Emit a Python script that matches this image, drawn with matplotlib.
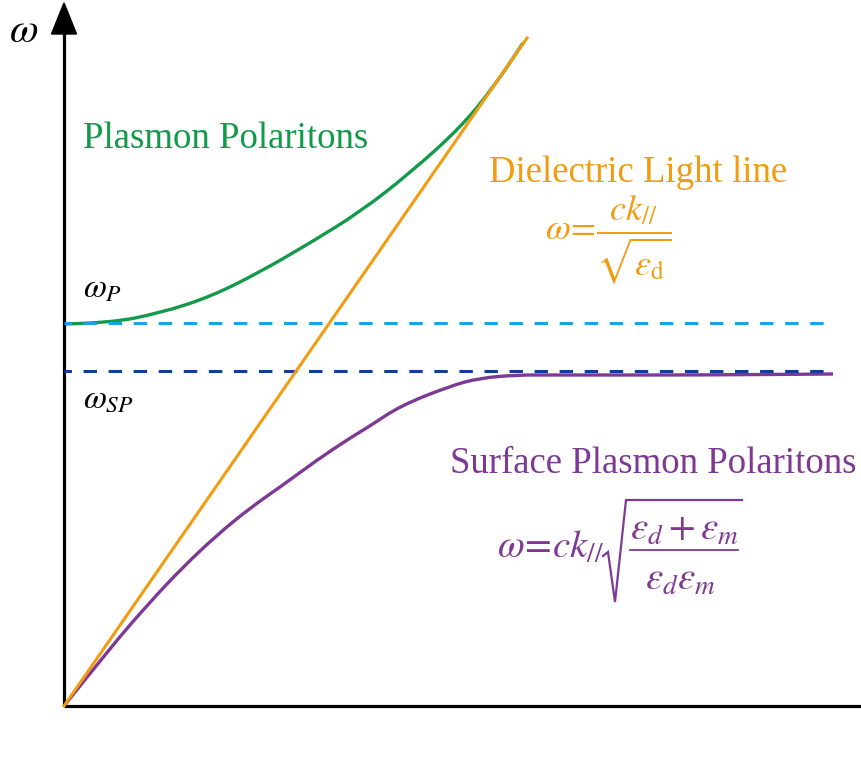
import numpy as np
import matplotlib
matplotlib.use("Agg")
import matplotlib.pyplot as plt
from matplotlib.patches import Polygon, PathPatch
from matplotlib.path import Path

plt.rcParams['font.family'] = ['Liberation Serif', 'DejaVu Serif']
plt.rcParams['mathtext.fontset'] = 'stix'

# ---- data (k on x, omega on y, arbitrary units) ----
light_k = [0, 463]
light_w = [0, 668]

pp_k = [0, 46, 96, 146, 196, 246, 296, 346, 396, 429, 459]
pp_w = [382, 383, 393, 409, 434, 463, 494, 533, 578, 618, 663]

spp_k = [0, 46, 86, 119, 153, 186, 219, 253, 286, 306, 336, 386, 416, 453, 486, 536, 636, 769]
spp_w = [0, 58, 104, 139, 171, 198, 221, 246, 268, 280, 300, 320, 328, 331, 331, 331, 331, 332]

omega_p = 383
omega_sp = 335
k_max = 769

# colours
c_green = '#13994a'
c_orange = '#f29c11'
c_purple = '#7e3994'
c_lblue = '#19a3e6'
c_dblue = '#133b98'


def smooth_curve(xs, ys):
    # quadratic bezier through the midpoints, read points used as controls
    pts = np.column_stack([xs, ys]).astype(float)
    verts = [pts[0]]
    codes = [Path.MOVETO]
    for i in range(1, len(pts) - 1):
        verts += [pts[i], (pts[i] + pts[i + 1]) / 2]
        codes += [Path.CURVE3, Path.CURVE3]
    verts.append(pts[-1])
    codes.append(Path.LINETO)
    return Path(verts, codes)


fig = plt.figure(figsize=(8.62, 7.72), dpi=100)
ax = fig.add_axes([0, 0, 1, 1])
ax.set_xlim(-64, 798)
ax.set_ylim(-66, 706)
ax.axis('off')

# axes with arrow
ax.plot([0, 0], [0, 676], color='black', lw=2.3, solid_capstyle='butt')
ax.plot([0, 798], [0, 0], color='black', lw=2.3, solid_capstyle='butt')
ax.add_patch(Polygon([[0, 703], [-12.5, 672], [12.5, 672]], closed=True,
                     color='black'))

# dashed levels
dash = (1.96, (4.4, 3.8))
ax.plot([0, k_max], [omega_p, omega_p], color=c_lblue, lw=2.2, linestyle=dash)
ax.plot([0, k_max], [omega_sp, omega_sp], color=c_dblue, lw=2.2, linestyle=dash)

# curves
ax.plot(light_k, light_w, color=c_orange, lw=2.2)
ax.add_patch(PathPatch(smooth_curve(pp_k, pp_w), fill=False,
                       edgecolor=c_green, lw=2.4))
ax.add_patch(PathPatch(smooth_curve(spp_k, spp_w), fill=False,
                       edgecolor=c_purple, lw=2.4))

# labels
ax.text(-40, 674, r'$\omega$', fontsize=30, ha='center', va='center')
ax.text(19, 409, r'$\omega_P$', fontsize=24, ha='left', va='baseline')
ax.text(19, 298, r'$\omega_{SP}$', fontsize=24, ha='left', va='baseline')

ax.text(19, 558, 'Plasmon Polaritons', color=c_green, fontsize=26.5,
        ha='left', va='baseline')
ax.text(425, 524, 'Dielectric Light line', color=c_orange, fontsize=26.5,
        ha='left', va='baseline')
ax.text(386, 233, 'Surface Plasmon Polaritons', color=c_purple, fontsize=26.5,
        ha='left', va='baseline')

# light line formula
ax.text(544, 467, r'$\omega\! =\! \dfrac{ck_{//}}{\sqrt{\varepsilon_{\rm d}}}$',
        color=c_orange, fontsize=26, ha='center', va='center')

# SPP formula, set piece by piece to get the wide fraction spacing
ax.text(433, 148, r'$\omega\!=\!ck_{//}$', color=c_purple, fontsize=28,
        ha='left', va='baseline')
ax.plot([539, 544, 551, 562, 678], [150, 154, 104, 206, 206],
        color=c_purple, lw=1.6, solid_joinstyle='miter')
ax.text(620, 166, r'$\varepsilon_d + \varepsilon_m$', color=c_purple,
        fontsize=28, ha='center', va='baseline')
ax.plot([566, 674], [156, 156], color=c_purple, lw=1.3)
ax.text(617, 116, r'$\varepsilon_d\varepsilon_m$', color=c_purple,
        fontsize=28, ha='center', va='baseline')

fig.savefig('out.png', dpi=100)
